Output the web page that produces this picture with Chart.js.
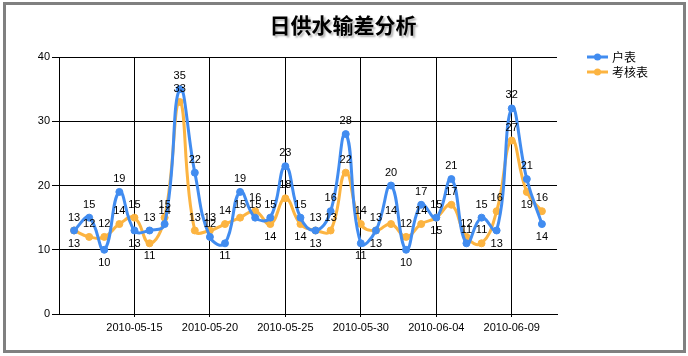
<!DOCTYPE html>
<html><head><meta charset="utf-8">
<script src="https://cdn.jsdelivr.net/npm/chart.js@4/dist/chart.umd.min.js"></script>
<style>html,body{margin:0;padding:0;background:#fff;}#c{display:block;}</style>
</head><body>
<canvas id="c" width="688" height="356"></canvas>
<script>
const chartTitle = '日供水输差分析';
const seriesNames = ['户表', '考核表'];
const categories = ['2010-05-11','2010-05-12','2010-05-13','2010-05-14','2010-05-15','2010-05-16','2010-05-17','2010-05-18','2010-05-19','2010-05-20',
  '2010-05-21','2010-05-22','2010-05-23','2010-05-24','2010-05-25','2010-05-26','2010-05-27','2010-05-28','2010-05-29','2010-05-30',
  '2010-05-31','2010-06-01','2010-06-02','2010-06-03','2010-06-04','2010-06-05','2010-06-06','2010-06-07','2010-06-08','2010-06-09',
  '2010-06-10','2010-06-11'];
const huBiao    = [13,15,10,19,13,13,14,35,22,12, 11,19,15,15,23,15,13,16,28,11, 13,20,10,17,15,21,11,15,13,32, 21,14];
const kaoheBiao = [13,12,12,14,15,11,15,33,13,13, 14,15,16,14,18,14,13,13,22,14, 13,14,12,14,15,17,12,11,16,27, 19,16];
const axisStart = '2010-05-10';
const axisEnd = '2010-06-12';
const xTickLabels = ['2010-05-15','2010-05-20','2010-05-25','2010-05-30','2010-06-04','2010-06-09'];
const yTickValues = [0,10,20,30,40];

const DAY = 86400000;
function dayIdx(s){ return Math.round((Date.parse(s+'T00:00:00Z') - Date.parse(axisStart+'T00:00:00Z'))/DAY); }

const colors = ['#418CF0', '#FCB441'];
const seriesData = [huBiao, kaoheBiao];

const framePlugin = {
  id: 'frame',
  beforeDraw(chart){
    const ctx = chart.ctx;
    ctx.save();
    ctx.fillStyle = '#fff';
    ctx.fillRect(0,0,chart.width,chart.height);
    ctx.restore();
  },
  afterDraw(chart){
    const ctx = chart.ctx;
    ctx.save();
    ctx.strokeStyle = '#808080';
    ctx.lineWidth = 3;
    ctx.strokeRect(4.5, 3.5, 680, 348);
    // title
    ctx.font = 'bold 21px "Noto Sans CJK SC"';
    ctx.textAlign = 'center';
    ctx.textBaseline = 'middle';
    ctx.shadowColor = 'rgba(0,0,0,0.3)';
    ctx.shadowOffsetX = 2; ctx.shadowOffsetY = 2; ctx.shadowBlur = 2;
    ctx.fillStyle = '#000';
    ctx.fillText(chartTitle, 343, 25);
    ctx.restore();
    // legend
    ctx.save();
    seriesNames.forEach((name, i) => {
      const y = 57 + i*15;
      ctx.strokeStyle = colors[i];
      ctx.lineWidth = 3;
      ctx.beginPath(); ctx.moveTo(587, y); ctx.lineTo(608, y); ctx.stroke();
      ctx.fillStyle = colors[i];
      ctx.beginPath(); ctx.arc(597.5, y, 3.5, 0, Math.PI*2); ctx.fill();
      ctx.fillStyle = '#000';
      ctx.font = '12px "Noto Sans CJK SC"';
      ctx.textAlign = 'left';
      ctx.textBaseline = 'middle';
      ctx.fillText(name, 612, y + 0.5);
    });
    ctx.restore();
  }
};

const labelPlugin = {
  id: 'valueLabels',
  afterDatasetsDraw(chart){
    const ctx = chart.ctx;
    ctx.save();
    ctx.font = '11px "Liberation Sans"';
    ctx.fillStyle = '#000';
    ctx.textAlign = 'center';
    ctx.textBaseline = 'middle';
    chart.data.datasets.forEach((ds, di) => {
      const meta = chart.getDatasetMeta(di);
      const mine = seriesData[di], other = seriesData[1-di];
      meta.data.forEach((pt, j) => {
        const v = mine[j], o = other[j];
        let below;
        if (di === 0) below = v < o - 1;
        else below = (v === o) || (o - v > 0 && o - v <= 2 && pt.y > chart.chartArea.top + 100);
        const y = below ? pt.y + 13 : pt.y - 13;
        ctx.fillText(String(v), pt.x, y);
      });
    });
    ctx.restore();
  }
};

new Chart(document.getElementById('c'), {
  type: 'line',
  data: {
    datasets: seriesNames.map((n, i) => ({
      label: n,
      data: categories.map((c, j) => ({x: dayIdx(c), y: seriesData[i][j]})),
      borderColor: colors[i],
      backgroundColor: colors[i],
      pointBackgroundColor: colors[i],
      pointBorderColor: colors[i],
      borderWidth: 3,
      pointRadius: 3.5,
      pointBorderWidth: 1,
      tension: 0.45,
      fill: false
    }))
  },
  options: {
    responsive: false,
    animation: false,
    layout: { padding: { left: 5, top: 57, right: 131, bottom: 0 } },
    plugins: { legend: { display: false }, title: { display: false }, tooltip: { enabled: false } },
    scales: {
      x: {
        type: 'linear',
        min: dayIdx(axisStart),
        max: dayIdx(axisEnd),
        afterBuildTicks(scale){ scale.ticks = xTickLabels.map(d => ({value: dayIdx(d)})); },
        afterFit(scale){ scale.height = 42; },
        ticks: {
          callback(value){ const t = xTickLabels.find(d => dayIdx(d) === value); return t || ''; },
          color: '#000', font: { family: 'Liberation Sans', size: 11 }, padding: 4, maxRotation: 0, autoSkip: false
        },
        grid: { color: '#000', lineWidth: 1, tickLength: 3 },
        border: { color: '#000', width: 1 }
      },
      y: {
        min: 0, max: 40,
        afterBuildTicks(scale){ scale.ticks = yTickValues.map(v => ({value: v})); },
        afterFit(scale){ scale.width = 54; },
        ticks: { color: '#000', font: { family: 'Liberation Sans', size: 11 }, padding: 2 },
        grid: { color: '#000', lineWidth: 1, tickLength: 7 },
        border: { color: '#000', width: 1 }
      }
    }
  },
  plugins: [framePlugin, labelPlugin]
});
</script>
</body></html>
